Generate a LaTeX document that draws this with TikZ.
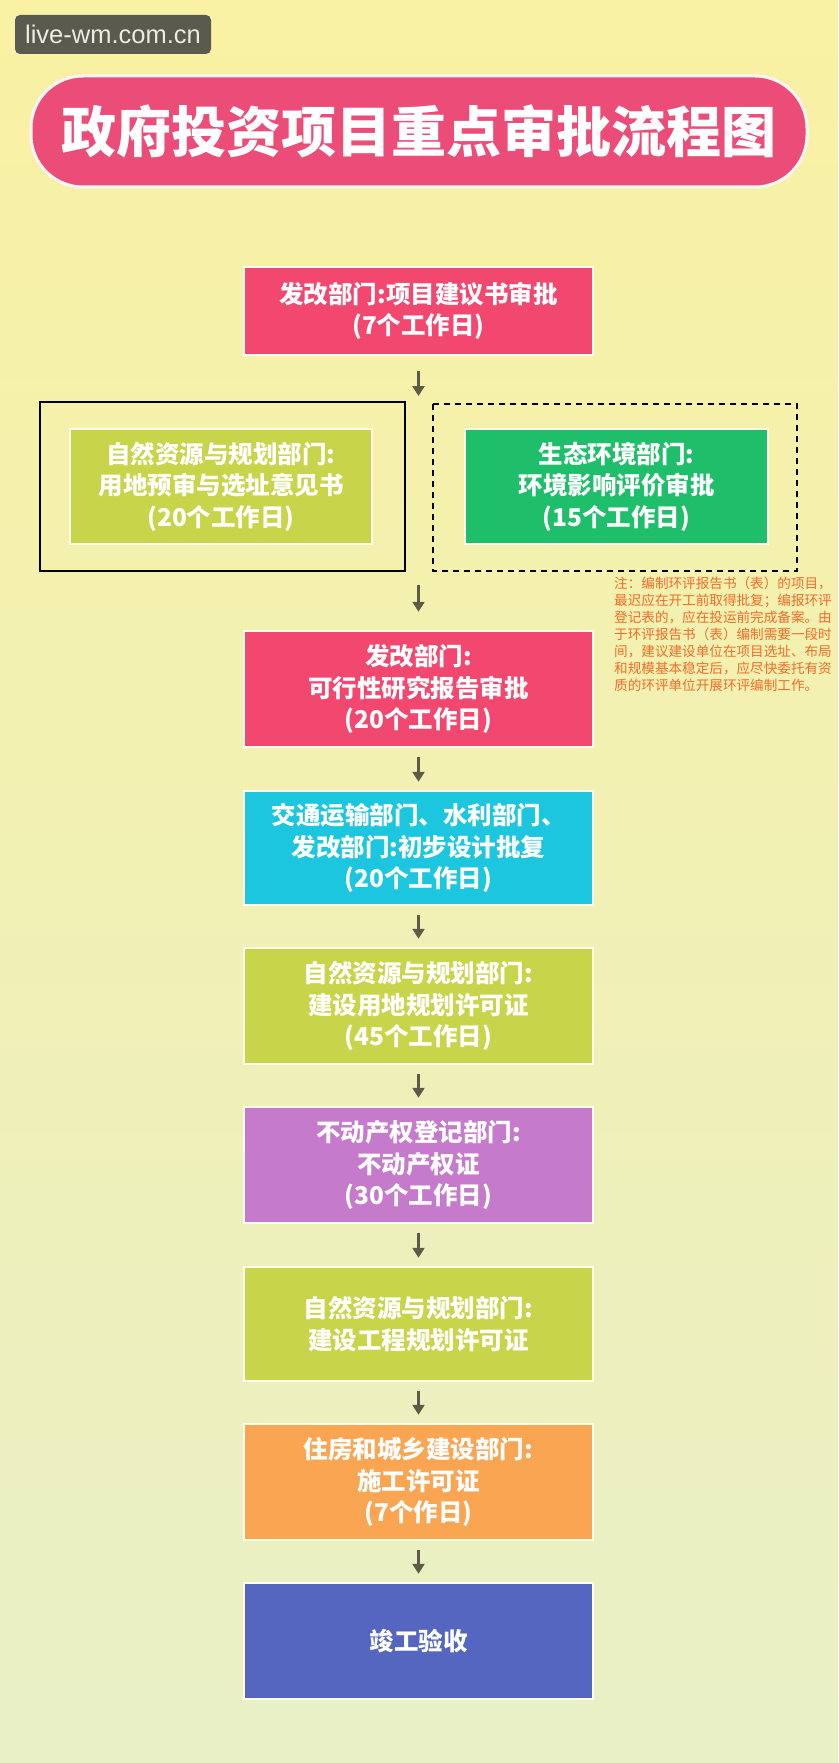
\documentclass[tikz,border=0pt]{standalone}
\usepackage{fontspec}
\setmainfont{Liberation Sans}
\newfontfamily\cjk{Noto Sans CJK SC}
\usetikzlibrary{arrows.meta}
\definecolor{bgtop}{HTML}{F9F1A3}
\definecolor{bgbot}{HTML}{E9F0C6}
\definecolor{cpink}{HTML}{F2476F}
\definecolor{ctitle}{HTML}{EC4C78}
\definecolor{cyg}{HTML}{C8D54A}
\definecolor{cgreen}{HTML}{1EBE6B}
\definecolor{ccyan}{HTML}{1CC6DE}
\definecolor{cpurple}{HTML}{C57ACB}
\definecolor{corange}{HTML}{F9A552}
\definecolor{cblue}{HTML}{5566C0}
\definecolor{carrow}{HTML}{5E5A48}
\definecolor{cnote}{HTML}{F26C2A}
\definecolor{cwm}{HTML}{5B5A4E}
\definecolor{cwmtext}{HTML}{ECECE4}
\tikzset{
  stepbox/.style={draw=white!92!yellow, line width=2.5pt, minimum width=349pt,
    text=white, align=center, inner sep=0pt,
    font=\cjk\bfseries\fontsize{24.5}{31.5}\selectfont},
  sidebox/.style={stepbox, minimum width=302pt, minimum height=115pt},
  flowarrow/.style={draw=carrow, line width=3.5pt,
    -{Triangle[width=12pt,length=10pt]}, shorten <=9pt, shorten >=8pt}
}
\begin{document}
\begin{tikzpicture}[x=1pt,y=-1pt]
\useasboundingbox (0,0) rectangle (838,1763);
\shade[top color=bgtop, bottom color=bgbot] (0,0) rectangle (838,1763);
% watermark
\node[fill=cwm, rounded corners=5pt, minimum width=196pt, minimum height=39pt,
  inner sep=0pt, text=cwmtext, font=\fontsize{25.5}{27}\selectfont] (wm) at (113,34.5) {live-wm.com.cn};
% title
\node[fill=ctitle, draw=white!85!pink, line width=3pt, rounded corners=52pt,
  minimum width=776pt, minimum height=111pt, inner sep=0pt, text=white,
  font=\cjk\bfseries\fontsize{55}{60}\selectfont] (title) at (419,131.5) {政府投资项目重点审批流程图};
% boxes
\node[stepbox, fill=cpink, minimum height=88pt] (b1) at (418.5,311) {发改部门:项目建议书审批\\(7个工作日)};
\draw[black, line width=2pt] (40,402) rectangle (405,571);
\draw[black, line width=1.8pt, dash pattern=on 6pt off 5pt] (433,404) rectangle (797,571);
\node[sidebox, fill=cyg] (left) at (221,486.5) {自然资源与规划部门:\\用地预审与选址意见书\\(20个工作日)};
\node[sidebox, fill=cgreen, minimum width=303pt] (right) at (616.5,486.5) {生态环境部门:\\环境影响评价审批\\(15个工作日)};
\coordinate (split) at (418.5,402);
\coordinate (merge) at (418.5,571);
\node[anchor=north west, align=left, inner sep=0pt, text=cnote,
  font=\cjk\fontsize{13.6}{16.9}\selectfont] (note) at (614,577)
  {注：编制环评报告书（表）的项目，\\最迟应在开工前取得批复；编报环评\\登记表的，应在投运前完成备案。由\\于环评报告书（表）编制需要一段时\\间，建议建设单位在项目选址、布局\\和规模基本稳定后，应尽快委托有资\\质的环评单位开展环评编制工作。};
\node[stepbox, fill=cpink, minimum height=116pt] (b3) at (418.5,689) {发改部门:\\可行性研究报告审批\\(20个工作日)};
\node[stepbox, fill=ccyan, minimum height=114pt] (b4) at (418.5,848) {交通运输部门、水利部门、\\发改部门:初步设计批复\\(20个工作日)};
\node[stepbox, fill=cyg, minimum height=116pt] (b5) at (418.5,1006) {自然资源与规划部门:\\建设用地规划许可证\\(45个工作日)};
\node[stepbox, fill=cpurple, minimum height=116pt] (b6) at (418.5,1165) {不动产权登记部门:\\不动产权证\\(30个工作日)};
\node[stepbox, fill=cyg, minimum height=114pt] (b7) at (418.5,1324) {自然资源与规划部门:\\建设工程规划许可证};
\node[stepbox, fill=corange, minimum height=116pt] (b8) at (418.5,1482) {住房和城乡建设部门:\\施工许可证\\(7个作日)};
\node[stepbox, fill=cblue, minimum height=116pt] (b9) at (418.5,1641) {竣工验收};
% arrows
\draw[flowarrow, shorten <=15pt, shorten >=6pt] (b1.south) -- (split);
\draw[flowarrow, shorten <=14pt, shorten >=18pt] (merge) -- (b3.north);
\draw[flowarrow] (b3.south) -- (b4.north);
\draw[flowarrow] (b4.south) -- (b5.north);
\draw[flowarrow] (b5.south) -- (b6.north);
\draw[flowarrow] (b6.south) -- (b7.north);
\draw[flowarrow] (b7.south) -- (b8.north);
\draw[flowarrow] (b8.south) -- (b9.north);
\end{tikzpicture}
\end{document}
